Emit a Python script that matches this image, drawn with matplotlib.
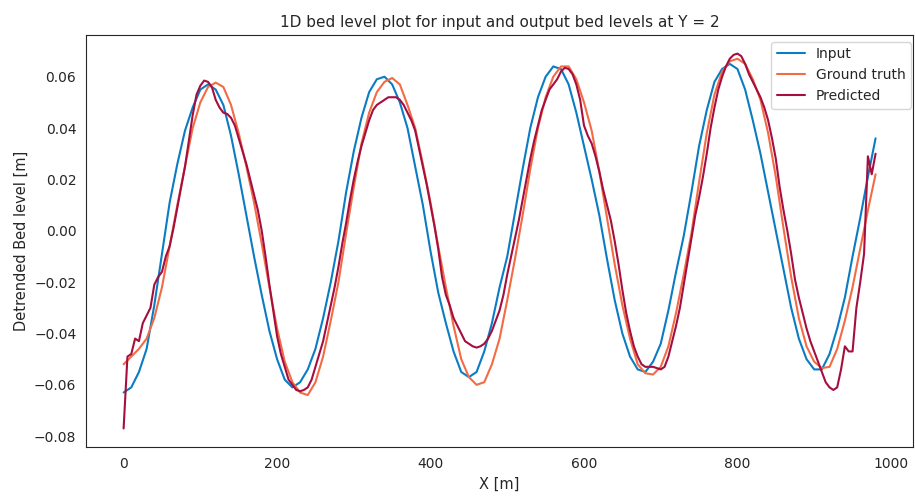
import numpy as np
import matplotlib
matplotlib.use("Agg")
import matplotlib.pyplot as plt
import seaborn as sns

# bed level profiles at Y = 2
x = np.arange(0, 981, 10)          # input / ground truth grid [m]
x_pred = np.arange(0, 981, 5)      # predicted grid [m]

bed_input = [
    -0.063, -0.061, -0.055, -0.046, -0.029, -0.009, 0.011, 0.026, 0.039, 0.048,
    0.055, 0.057, 0.055, 0.049, 0.037, 0.022, 0.006, -0.010, -0.025, -0.039,
    -0.050, -0.058, -0.061, -0.059, -0.054, -0.046, -0.034, -0.020, -0.004, 0.015,
    0.031, 0.044, 0.054, 0.059, 0.060, 0.057, 0.050, 0.040, 0.025, 0.010,
    -0.008, -0.024, -0.036, -0.047, -0.055, -0.057, -0.055, -0.047, -0.036, -0.022,
    -0.010, 0.007, 0.024, 0.040, 0.052, 0.060, 0.064, 0.063, 0.057, 0.046,
    0.033, 0.020, 0.006, -0.011, -0.027, -0.040, -0.049, -0.054, -0.055, -0.051,
    -0.044, -0.031, -0.016, -0.002, 0.015, 0.033, 0.047, 0.058, 0.063, 0.065,
    0.063, 0.055, 0.043, 0.030, 0.015, 0.000, -0.015, -0.030, -0.042, -0.050,
    -0.054, -0.054, -0.048, -0.038, -0.026, -0.010, 0.005, 0.021, 0.036,
]

bed_truth = [
    -0.052, -0.049, -0.046, -0.042, -0.034, -0.022, -0.006, 0.010, 0.025, 0.040,
    0.050, 0.056, 0.0577, 0.056, 0.049, 0.038, 0.025, 0.011, -0.005, -0.022,
    -0.038, -0.051, -0.059, -0.063, -0.064, -0.059, -0.049, -0.035, -0.020, -0.001,
    0.017, 0.034, 0.046, 0.054, 0.058, 0.0595, 0.057, 0.049, 0.040, 0.026,
    0.011, -0.006, -0.022, -0.037, -0.050, -0.057, -0.060, -0.059, -0.052, -0.042,
    -0.027, -0.011, 0.006, 0.024, 0.040, 0.052, 0.060, 0.064, 0.064, 0.059,
    0.050, 0.039, 0.023, 0.005, -0.013, -0.029, -0.042, -0.052, -0.0555, -0.056,
    -0.053, -0.045, -0.032, -0.017, -0.001, 0.019, 0.038, 0.053, 0.062, 0.066,
    0.067, 0.065, 0.059, 0.051, 0.038, 0.021, 0.001, -0.018, -0.034, -0.045,
    -0.051, -0.0535, -0.053, -0.046, -0.035, -0.022, -0.007, 0.008, 0.022,
]

bed_pred = [
    -0.077, -0.049, -0.048, -0.042, -0.043, -0.036, -0.033, -0.030, -0.021, -0.018,
    -0.016, -0.010, -0.006, 0.001, 0.009, 0.017, 0.025, 0.035, 0.045, 0.053,
    0.0565, 0.0585, 0.058, 0.056, 0.051, 0.048, 0.046, 0.0455, 0.044, 0.041,
    0.036, 0.031, 0.026, 0.020, 0.014, 0.008, 0.000, -0.010, -0.021, -0.031,
    -0.041, -0.048, -0.053, -0.058, -0.060, -0.062, -0.0625, -0.062, -0.061, -0.058,
    -0.053, -0.048, -0.043, -0.036, -0.029, -0.022, -0.014, -0.005, 0.003, 0.012,
    0.020, 0.027, 0.033, 0.038, 0.043, 0.047, 0.049, 0.050, 0.051, 0.052,
    0.052, 0.052, 0.051, 0.049, 0.046, 0.043, 0.039, 0.032, 0.025, 0.018,
    0.010, 0.002, -0.007, -0.018, -0.025, -0.029, -0.034, -0.037, -0.040, -0.043,
    -0.044, -0.045, -0.0455, -0.045, -0.044, -0.042, -0.039, -0.035, -0.031, -0.025,
    -0.017, -0.010, -0.003, 0.004, 0.012, 0.020, 0.028, 0.035, 0.041, 0.047,
    0.051, 0.055, 0.057, 0.059, 0.062, 0.0635, 0.063, 0.061, 0.057, 0.051,
    0.041, 0.037, 0.034, 0.029, 0.023, 0.016, 0.010, 0.004, -0.004, -0.013,
    -0.023, -0.032, -0.039, -0.045, -0.049, -0.052, -0.053, -0.053, -0.053, -0.0535,
    -0.054, -0.053, -0.049, -0.043, -0.037, -0.030, -0.021, -0.012, -0.003, 0.006,
    0.013, 0.021, 0.030, 0.040, 0.048, 0.055, 0.060, 0.064, 0.067, 0.0685,
    0.069, 0.068, 0.065, 0.061, 0.058, 0.055, 0.052, 0.048, 0.043, 0.036,
    0.028, 0.017, 0.008, 0.000, -0.009, -0.019, -0.026, -0.032, -0.038, -0.043,
    -0.047, -0.051, -0.055, -0.059, -0.061, -0.062, -0.061, -0.054, -0.045, -0.047,
    -0.047, -0.030, -0.020, -0.009, 0.029, 0.022, 0.030,
]

sns.set_style("white")
plt.rcParams["font.family"] = ["DejaVu Sans"]

fig = plt.figure(figsize=(9.15, 4.98), dpi=100)
ax = fig.add_axes([0.094, 0.102, 0.904, 0.828])

ax.plot(x, bed_input, color="#0a7cc4", lw=1.5, label="Input")
ax.plot(x, bed_truth, color="#f26b45", lw=1.5, label="Ground truth")
ax.plot(x_pred, bed_pred, color="#a50e3e", lw=1.5, label="Predicted")

ax.set_title("1D bed level plot for input and output bed levels at Y = 2", fontsize=11)
ax.set_xlabel("X [m]", fontsize=10.5)
ax.set_ylabel("Detrended Bed level [m]", fontsize=10.5)
ax.tick_params(labelsize=10)
for sp in ax.spines.values():
    sp.set_color("#262626")
ax.legend(loc="upper right", fontsize=10, bbox_to_anchor=(1.006, 1.0))

fig.savefig("out.png", dpi=100)
